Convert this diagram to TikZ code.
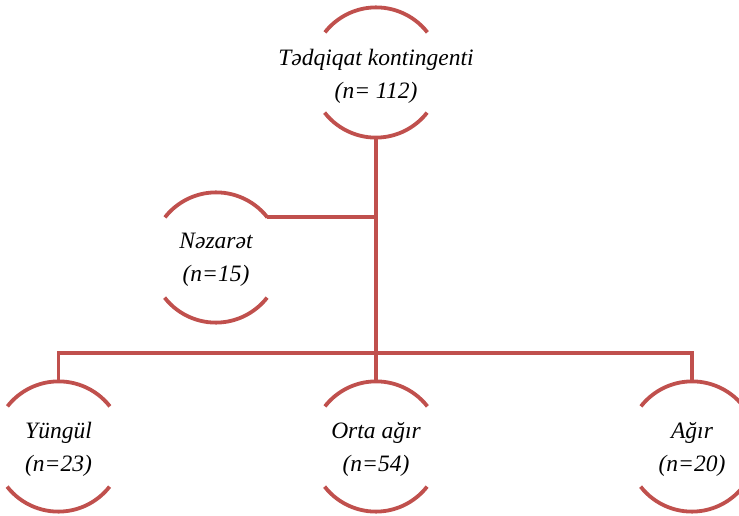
\documentclass[tikz,border=0pt]{standalone}
\usepackage{fontspec}
\usetikzlibrary{calc}
\setmainfont{Liberation Serif}
\definecolor{brick}{RGB}{192,80,77}
\tikzset{
  grp/.style={circle, minimum size=130pt, inner sep=0pt},
  txt/.style={font=\fontsize{23.5}{33}\selectfont\itshape, align=center},
  lnk/.style={brick, line width=3.8pt}
}
\begin{document}
\begin{tikzpicture}[x=1pt, y=1pt]
\useasboundingbox (0,0) rectangle (739,515);
\node[grp] (top) at (376,442.5) {};
\node[grp] (naz) at (216,257.5) {};
\node[grp] (yun) at (58.5,68.5) {};
\node[grp] (ort) at (376,68.5) {};
\node[grp] (agi) at (692,68.5) {};
\coordinate (bar) at (376,162);
\foreach \g in {top,naz,yun,ort,agi}{
  \draw[lnk] (\g.38) arc[start angle=38, end angle=142, radius=65pt];
  \draw[lnk] (\g.218) arc[start angle=218, end angle=322, radius=65pt];
}
\draw[lnk] (top.south) -- (ort.north);
\draw[lnk] (naz.38) -- (naz.38 -| top.south);
\draw[lnk, line cap=rect] (yun.north) |- (bar) -| (agi.north);
\node[txt] (toplbl) at ($(top)+(0,-4)$) {Tədqiqat kontingenti\\(n= 112)};
\node[txt] (nazlbl) at ($(naz)+(0,-2)$) {Nəzarət\\(n=15)};
\node[txt] (yunlbl) at ($(yun)+(0,-3)$) {Yüngül\\(n=23)};
\node[txt] (ortlbl) at ($(ort)+(0,-3)$) {Orta ağır\\(n=54)};
\node[txt] (agilbl) at ($(agi)+(0,-3)$) {Ağır\\(n=20)};
\end{tikzpicture}
\end{document}
